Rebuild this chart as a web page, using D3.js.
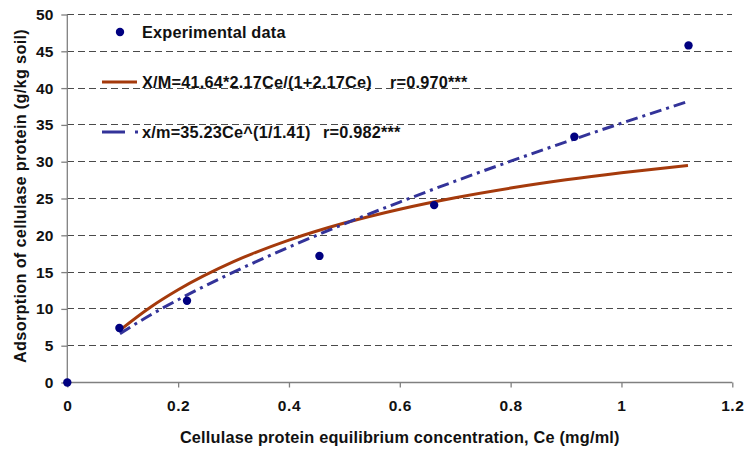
<!DOCTYPE html>
<html>
<head>
<meta charset="utf-8">
<script src="https://cdn.jsdelivr.net/npm/d3@7"></script>
<style>
  body { margin: 0; background: #fff; }
  svg { display: block; font-family: "Liberation Sans", Arial, sans-serif; font-weight: bold; }
</style>
</head>
<body>
<svg id="chart"></svg>
<script>
// Experimental data
const ceData = [0, 0.094, 0.216, 0.455, 0.662, 0.915, 1.121];
const adsData = [0, 7.4, 11.1, 17.2, 24.1, 33.4, 45.8];

// Fitted curves
const fitCe = [0.095, 0.15, 0.2, 0.3, 0.4, 0.5, 0.6, 0.7, 0.8, 0.9, 1.0, 1.12];
const langmuirVals = [7.12, 10.23, 12.6, 16.42, 19.35, 21.67, 23.55, 25.11, 26.42, 27.54, 28.5, 29.5];
const freundlichVals = [6.64, 9.17, 11.25, 15.0, 18.39, 21.55, 24.52, 27.36, 30.07, 32.69, 35.23, 38.18];

const xTicks = [0, 0.2, 0.4, 0.6, 0.8, 1, 1.2];
const yTicks = [0, 5, 10, 15, 20, 25, 30, 35, 40, 45, 50];

const legendLabels = ['Experimental data', 'X/M=41.64*2.17Ce/(1+2.17Ce)', 'x/m=35.23Ce^(1/1.41)'];
const legendR = ['', 'r=0.970***', 'r=0.982***'];

const W = 745, H = 449;
const margin = { top: 14.5, right: 12.7, bottom: 66.5, left: 67.3 };
const width = W - margin.left - margin.right;
const height = H - margin.top - margin.bottom;

const svg = d3.select('#chart').attr('width', W).attr('height', H);
const g = svg.append('g').attr('transform', `translate(${margin.left},${margin.top})`);

const x = d3.scaleLinear().domain([0, 1.2]).range([0, width]);
const y = d3.scaleLinear().domain([0, 50]).range([height, 0]);

// Grid
g.append('g')
  .selectAll('line')
  .data(yTicks.filter(d => d > 0))
  .join('line')
  .attr('x1', 0).attr('x2', width)
  .attr('y1', d => y(d)).attr('y2', d => y(d))
  .attr('stroke', '#4a4a4a')
  .attr('stroke-width', 1)
  .attr('stroke-dasharray', '7,4')
  .attr('shape-rendering', 'crispEdges');

// Axes
const xAxis = g.append('g')
  .attr('transform', `translate(0,${height})`)
  .call(d3.axisBottom(x).tickValues(xTicks).tickFormat(d3.format('')).tickSize(5).tickPadding(12));
const yAxis = g.append('g')
  .call(d3.axisLeft(y).tickValues(yTicks).tickSize(6).tickPadding(8));

[xAxis, yAxis].forEach(ax => {
  ax.select('.domain').attr('stroke', '#808080').attr('stroke-width', 1.3);
  ax.selectAll('.tick line').attr('stroke', '#808080').attr('stroke-width', 1.3);
  ax.selectAll('text')
    .attr('fill', '#111')
    .style('font-size', '15.5px')
    .style('font-family', '"Liberation Sans", Arial, sans-serif')
    .style('font-weight', 'bold');
});
xAxis.selectAll('text').style('letter-spacing', '0.6px');
xAxis.select('.domain').attr('d', `M0,0H${width}`);
yAxis.select('.domain').attr('d', `M0,${height}V0`);

// Curves
const langmuir = fitCe.map((c, i) => [c, langmuirVals[i]]);
const freundlich = fitCe.map((c, i) => [c, freundlichVals[i]]);
const line = d3.line()
  .x(d => x(d[0]))
  .y(d => y(d[1]))
  .curve(d3.curveMonotoneX);

g.append('path')
  .datum(langmuir)
  .attr('fill', 'none')
  .attr('stroke', '#A53A0C')
  .attr('stroke-width', 3)
  .attr('d', line);

g.append('path')
  .datum(freundlich)
  .attr('fill', 'none')
  .attr('stroke', '#333399')
  .attr('stroke-width', 3)
  .attr('stroke-dasharray', '12,5,3,5')
  .attr('d', line);

// Points
g.append('g')
  .selectAll('circle')
  .data(ceData.map((c, i) => [c, adsData[i]]))
  .join('circle')
  .attr('cx', d => x(d[0]))
  .attr('cy', d => y(d[1]))
  .attr('r', 4.2)
  .attr('fill', '#000080');

// Legend
const legend = svg.append('g');
const legendY = [32, 82, 132];
legend.append('circle').attr('cx', 120).attr('cy', legendY[0]).attr('r', 4.2).attr('fill', '#000080');
legend.append('line')
  .attr('x1', 102).attr('x2', 137).attr('y1', legendY[1]).attr('y2', legendY[1])
  .attr('stroke', '#A53A0C').attr('stroke-width', 3);
legend.append('line')
  .attr('x1', 102).attr('x2', 138).attr('y1', legendY[2]).attr('y2', legendY[2])
  .attr('stroke', '#333399').attr('stroke-width', 3)
  .attr('stroke-dasharray', '23,10,3,5');

legend.selectAll('text.lab')
  .data(legendLabels)
  .join('text')
  .attr('class', 'lab')
  .attr('x', 142)
  .attr('y', (d, i) => legendY[i])
  .attr('dy', '0.35em')
  .style('font-size', '16.3px')
  .style('letter-spacing', '0.2px')
  .attr('fill', '#111')
  .text(d => d);

legend.selectAll('text.r')
  .data(legendR)
  .join('text')
  .attr('class', 'r')
  .attr('x', (d, i) => [0, 390, 323][i])
  .attr('y', (d, i) => legendY[i])
  .attr('dy', '0.35em')
  .style('font-size', '16.3px')
  .style('letter-spacing', '0.2px')
  .attr('fill', '#111')
  .text(d => d);

// Axis titles
svg.append('text')
  .attr('x', margin.left + width / 2)
  .attr('y', 443)
  .attr('text-anchor', 'middle')
  .style('font-size', '16.3px')
  .style('letter-spacing', '0.2px')
  .attr('fill', '#111')
  .text('Cellulase protein equilibrium concentration, Ce (mg/ml)');

svg.append('text')
  .attr('transform', `translate(20,${196}) rotate(-90)`)
  .attr('dy', '0.35em')
  .attr('text-anchor', 'middle')
  .style('font-size', '16.3px')
  .style('letter-spacing', '0.3px')
  .attr('fill', '#111')
  .text('Adsorption of cellulase protein (g/kg soil)');
</script>
</body>
</html>
